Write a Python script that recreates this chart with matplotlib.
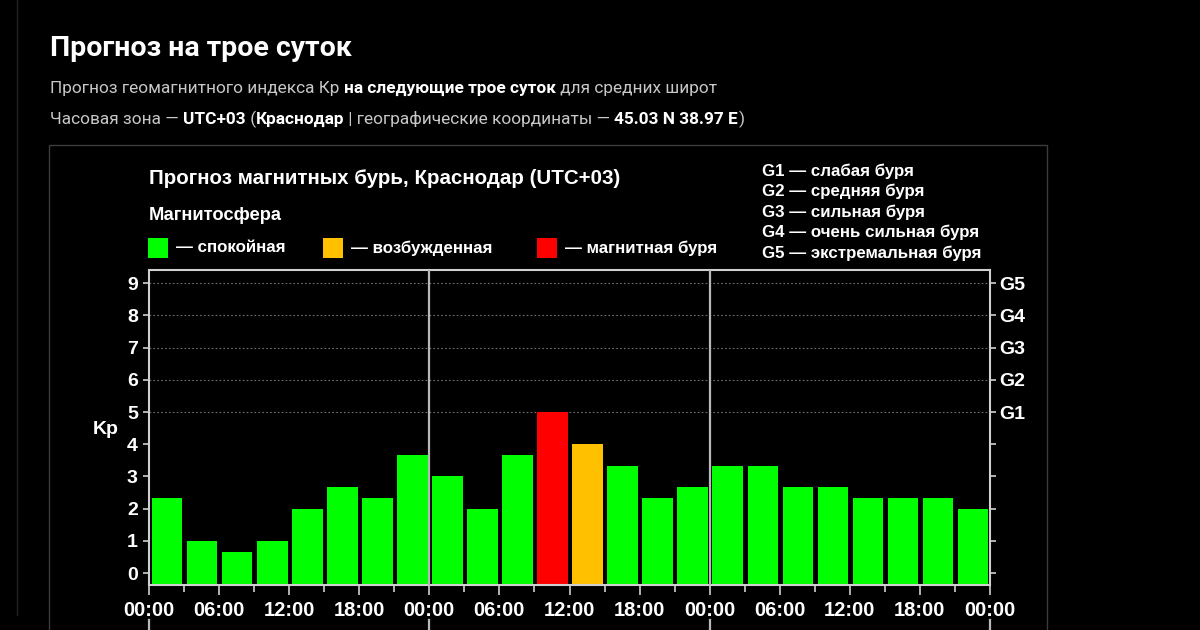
import numpy as np
import matplotlib
matplotlib.use("Agg")
import matplotlib.pyplot as plt
import matplotlib.transforms as mtransforms
from matplotlib.patches import Rectangle
from matplotlib.ticker import MultipleLocator, FixedLocator

# Kp forecast, 3-hour steps, three days
kp_values = [2.33, 1.0, 0.67, 1.0, 2.0, 2.67, 2.33, 3.67,
             3.0, 2.0, 3.67, 5.0, 4.0, 3.33, 2.33, 2.67,
             3.33, 3.33, 2.67, 2.67, 2.33, 2.33, 2.33, 2.0]
hours = np.arange(len(kp_values)) * 3
x_tick_hours = np.arange(0, 73, 6)
x_tick_labels = ["00:00", "06:00", "12:00", "18:00"] * 3 + ["00:00"]
g_levels = [5, 6, 7, 8, 9]
g_labels = ["G1", "G2", "G3", "G4", "G5"]
g_legend = ["G1 — слабая буря", "G2 — средняя буря", "G3 — сильная буря",
            "G4 — очень сильная буря", "G5 — экстремальная буря"]

GREEN = "#00ff00"
ORANGE = "#ffc000"
RED = "#ff0000"
YMIN, YMAX = -0.37, 9.41


def kp_color(v):
    if v >= 5:
        return RED
    if v >= 4:
        return ORANGE
    return GREEN


W, H = 1200, 630
fig = plt.figure(figsize=(W / 100, H / 100), dpi=100, facecolor="black")
renderer = fig.canvas.get_renderer()


def px(x, y):
    return x / W, 1 - y / H


def text_runs(x, y, parts, size, family):
    # parts: (text, bold, color) drawn one after another on the same line
    for txt, bold, color in parts:
        t = fig.text(*px(x, y), txt, fontsize=size, family=family, color=color,
                     fontweight="bold" if bold else "normal", va="center", ha="left")
        x += t.get_window_extent(renderer).width


# outer page decorations
fig.add_artist(plt.Line2D([17 / W, 17 / W], [1, 1 - 615 / H], color="#222222", lw=1))
fig.add_artist(Rectangle(px(49, 700), (1047 - 49) / W, (700 - 145) / H, fill=False,
                         edgecolor="#3c3c3c", lw=1, transform=fig.transFigure))

# page header
HEAD = "Roboto"
fig.text(*px(50, 48), "Прогноз на трое суток", fontsize=20.5, fontweight="bold",
         family=HEAD, color="white", va="center")
text_runs(50, 89, [("Прогноз геомагнитного индекса Кр ", False, "#c8c8c8"),
                   ("на следующие трое суток", True, "white"),
                   (" для средних широт", False, "#c8c8c8")], 12.4, HEAD)
text_runs(50, 119, [("Часовая зона — ", False, "#c8c8c8"),
                    ("UTC+03", True, "white"),
                    (" (", False, "#c8c8c8"),
                    ("Краснодар", True, "white"),
                    (" | географические координаты — ", False, "#c8c8c8"),
                    ("45.03 N 38.97 E", True, "white"),
                    (")", False, "#c8c8c8")], 12.4, HEAD)

# chart header and legends
CH = "Liberation Sans"
fig.text(*px(149, 178), "Прогноз магнитных бурь, Краснодар (UTC+03)", fontsize=14.8,
         fontweight="bold", family=CH, color="white", va="center")
fig.text(*px(149, 216), "Магнитосфера", fontsize=13.2, fontweight="bold",
         family=CH, color="white", va="center")
legend_items = [(148, GREEN, "— спокойная"), (323, ORANGE, "— возбужденная"),
                (537, RED, "— магнитная буря")]
for lx, col, lab in legend_items:
    fig.add_artist(Rectangle(px(lx, 258), 20 / W, 20 / H, facecolor=col,
                             edgecolor="none", transform=fig.transFigure))
    fig.text(*px(lx + 28, 248), lab, fontsize=12.2, fontweight="bold",
             family=CH, color="white", va="center")
for i, lab in enumerate(g_legend):
    fig.text(*px(762, 171 + i * 20.5), lab, fontsize=12.2, fontweight="bold",
             family=CH, color="white", va="center")

# chart
ax = fig.add_axes([149 / W, 1 - 585 / H, (990 - 149) / W, (585 - 270) / H])
ax.set_facecolor("black")
colors = [kp_color(v) for v in kp_values]
ax.bar(hours + 1.55, np.array(kp_values) - YMIN, bottom=YMIN, width=2.62,
       color=colors, edgecolor="none", zorder=2)
ax.set_xlim(0, 72)
ax.set_ylim(YMIN, YMAX)

for lvl in g_levels:
    ax.axhline(lvl, color="#707070", lw=0.8, ls=(0, (1.5, 2)), zorder=1)
for d in (24, 48):
    ax.axvline(d, color="#b8b8b8", lw=1.6, zorder=3)

for s in ax.spines.values():
    s.set_color("#d0d0d0")
    s.set_linewidth(1.5)

ax.set_yticks(range(10))
ax.tick_params(axis="y", which="major", colors="#d0d0d0", labelcolor="white",
               length=4, width=1.2, labelsize=14, pad=4)
for lab in ax.get_yticklabels():
    lab.set_fontweight("bold")
    lab.set_family(CH)

ax.xaxis.set_major_locator(FixedLocator(x_tick_hours))
ax.set_xticklabels(x_tick_labels)
ax.xaxis.set_minor_locator(MultipleLocator(3))
ax.tick_params(axis="x", which="major", colors="#d0d0d0", labelcolor="white",
               length=7.5, width=1.2, labelsize=14.5, pad=4)
ax.tick_params(axis="x", which="minor", colors="#d0d0d0", length=5, width=1.2)
for lab in ax.get_xticklabels():
    lab.set_fontweight("bold")
    lab.set_family(CH)

ax.text(-0.052, (4.45 - YMIN) / (YMAX - YMIN), "Kp", transform=ax.transAxes,
        fontsize=14, fontweight="bold", family=CH, color="white",
        ha="center", va="center")

ax2 = ax.twinx()
ax2.set_ylim(YMIN, YMAX)
ax2.set_yticks(range(10))
ax2.set_yticklabels([""] * 5 + g_labels)
ax2.tick_params(axis="y", colors="#d0d0d0", labelcolor="white", length=4,
                width=1.2, labelsize=14, pad=3)
for lab in ax2.get_yticklabels():
    lab.set_fontweight("bold")
    lab.set_family(CH)
for s in ax2.spines.values():
    s.set_visible(False)

# day separators continue below the tick labels
trans = mtransforms.blended_transform_factory(ax.transData, ax.transAxes)
for d in (0, 24, 48, 72):
    ax.plot([d, d], [-0.112, -0.16], color="#b8b8b8", lw=1.6,
            transform=trans, clip_on=False)

fig.savefig("out.png", dpi=100, facecolor="black")
